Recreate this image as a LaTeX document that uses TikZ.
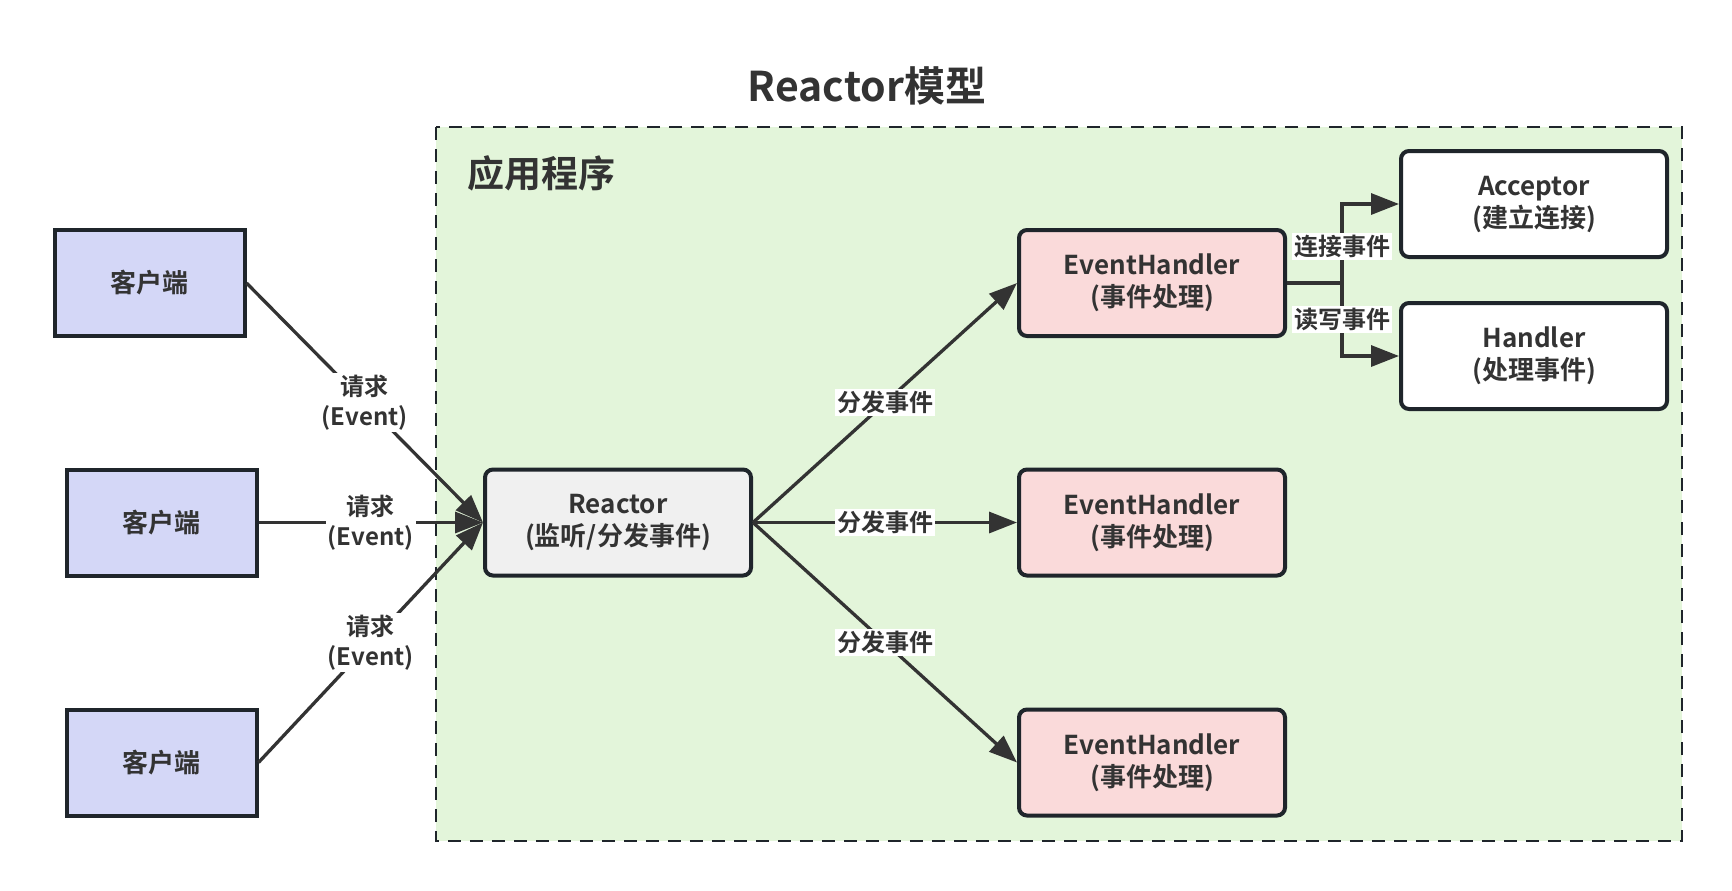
\documentclass[tikz,border=0pt]{standalone}
\usepackage{fontspec}
\setmainfont{Noto Sans CJK SC}[BoldFont=* Bold]
\usetikzlibrary{arrows.meta}
\definecolor{ink}{HTML}{333333}
\definecolor{edge}{HTML}{1F252B}
\definecolor{wire}{HTML}{333333}
\definecolor{appfill}{HTML}{E3F5DA}
\definecolor{clientfill}{HTML}{D4D7F7}
\definecolor{reactorfill}{HTML}{F0F0F0}
\definecolor{handlerfill}{HTML}{FADADA}
\tikzset{basebox/.style={draw=edge,line width=2pt,text=ink,align=center,
           minimum width=133pt,minimum height=53pt,inner sep=0pt,
           font=\bfseries\fontsize{13}{16}\selectfont},
         client/.style={basebox,fill=clientfill,minimum width=95pt},
         reactorbox/.style={basebox,rounded corners=4pt,fill=reactorfill},
         handlerbox/.style={basebox,rounded corners=4pt,fill=handlerfill},
         workerbox/.style={basebox,rounded corners=4pt,fill=white},
         flow/.style={draw=wire,line width=1.65pt,-{Triangle[length=14pt,width=10.5pt]}},
         lab/.style={fill=white,text=ink,align=center,inner sep=1pt,
           font=\bfseries\fontsize{12}{15}\selectfont}}

\begin{document}
\begin{tikzpicture}[x=0.5pt,y=-0.5pt]
  \useasboundingbox (0,0) rectangle (1732,890);
  \node[text=ink,font=\bfseries\fontsize{20.5}{24}\selectfont] (title) at (867,86) {Reactor模型};
  % application area
  \draw[draw=edge,line width=1pt,dash pattern=on 6.5pt off 4.5pt,fill=appfill] (436,127) rectangle (1682,841);
  \node[anchor=west,text=ink,font=\bfseries\fontsize{18.5}{22}\selectfont] (applabel) at (460,173) {应用程序};
  % clients
  \node[client] (c1) at (149.5,283) {客户端};
  \node[client] (c2) at (161.5,522.5) {客户端};
  \node[client] (c3) at (161.5,762.5) {客户端};
  \node[reactorbox] (reactor) at (618,522.5) {Reactor\\(监听/分发事件)};
  \node[handlerbox] (eh1) at (1152,283) {EventHandler\\(事件处理)};
  \node[handlerbox] (eh2) at (1152,522.5) {EventHandler\\(事件处理)};
  \node[handlerbox] (eh3) at (1152,762.5) {EventHandler\\(事件处理)};
  \node[workerbox] (acceptor) at (1534,204) {Acceptor\\(建立连接)};
  \node[workerbox] (handler) at (1534,356) {Handler\\(处理事件)};
  % requests
  \draw[flow] (c1.east) -- node[lab] {请求\\(Event)} (reactor.west);
  \draw[flow] (c2.east) -- node[lab] {请求\\(Event)} (reactor.west);
  \draw[flow] (c3.east) -- node[lab] {请求\\(Event)} (reactor.west);
  % dispatch
  \draw[flow] (reactor.east) -- node[lab] {分发事件} (eh1.west);
  \draw[flow] (reactor.east) -- node[lab] {分发事件} (eh2.west);
  \draw[flow] (reactor.east) -- node[lab] {分发事件} (eh3.west);
  \coordinate (split) at (1342,283);
  \draw[draw=wire,line width=1.65pt] (eh1.east) -- (split);
  \draw[flow] (split) |- node[lab,pos=0.23] {连接事件} (acceptor.west);
  \draw[flow] (split) |- node[lab,pos=0.25] {读写事件} (handler.west);
\end{tikzpicture}
\end{document}
